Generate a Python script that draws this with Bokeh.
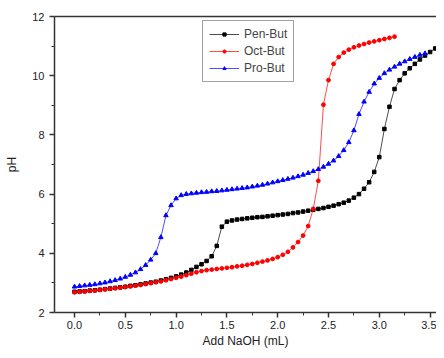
import numpy as np
from bokeh.plotting import figure
from bokeh.models import LinearAxis, FixedTicker, Range1d, Legend, LegendItem
from bokeh.embed import file_html
from bokeh.resources import INLINE

STEP = 0.05

pen_but = [2.70, 2.71, 2.72, 2.74, 2.75, 2.77, 2.79, 2.81, 2.83, 2.85,
           2.87, 2.90, 2.92, 2.95, 2.98, 3.01, 3.04, 3.08, 3.12, 3.17,
           3.22, 3.28, 3.35, 3.44, 3.54, 3.63, 3.74, 3.90, 4.25, 4.90,
           5.07, 5.11, 5.14, 5.16, 5.18, 5.20, 5.22, 5.23, 5.25, 5.27,
           5.29, 5.31, 5.33, 5.36, 5.38, 5.41, 5.44, 5.47, 5.50, 5.53,
           5.57, 5.61, 5.66, 5.71, 5.78, 5.88, 6.00, 6.18, 6.40, 6.75,
           7.25, 8.20, 8.95, 9.55, 9.85, 10.08, 10.25, 10.40, 10.55, 10.68,
           10.80, 10.92, 11.03, 11.12]

oct_but = [2.68, 2.70, 2.71, 2.73, 2.74, 2.76, 2.78, 2.80, 2.82, 2.84,
           2.86, 2.88, 2.91, 2.93, 2.96, 2.99, 3.02, 3.05, 3.09, 3.13,
           3.17, 3.21, 3.26, 3.31, 3.36, 3.40, 3.43, 3.45, 3.47, 3.49,
           3.51, 3.53, 3.56, 3.58, 3.61, 3.64, 3.68, 3.72, 3.76, 3.81,
           3.87, 3.95, 4.05, 4.20, 4.38, 4.60, 4.92, 5.50, 6.45, 9.02,
           9.85, 10.40, 10.63, 10.78, 10.88, 10.96, 11.02, 11.07, 11.12, 11.16,
           11.20, 11.24, 11.28, 11.32]

pro_but = [2.87, 2.89, 2.91, 2.93, 2.95, 2.98, 3.01, 3.05, 3.09, 3.14,
           3.20, 3.27, 3.35, 3.46, 3.60, 3.78, 4.00, 4.54, 5.28, 5.62,
           5.85, 5.96, 6.00, 6.02, 6.04, 6.06, 6.07, 6.09, 6.10, 6.12,
           6.14, 6.16, 6.18, 6.20, 6.22, 6.25, 6.28, 6.31, 6.35, 6.39,
           6.43, 6.47, 6.51, 6.55, 6.60, 6.65, 6.71, 6.77, 6.84, 6.92,
           7.02, 7.13, 7.28, 7.48, 7.75, 8.15, 8.70, 9.12, 9.45, 9.73,
           9.92, 10.08, 10.20, 10.30, 10.40, 10.48, 10.56, 10.63, 10.70, 10.75]

x_ticks = [0.0, 0.5, 1.0, 1.5, 2.0, 2.5, 3.0, 3.5]
y_ticks = [2, 4, 6, 8, 10, 12]

def xs(vals):
    return [round(i * STEP, 2) for i in range(len(vals))]

FONT = "Liberation Sans"

p = figure(width=436, height=350, output_backend="svg", toolbar_location=None,
           x_range=Range1d(-0.197, 3.563), y_range=Range1d(2, 12),
           min_border_left=54, min_border_right=0, min_border_top=16,
           min_border_bottom=37)
p.outline_line_color = None
p.xgrid.visible = False
p.ygrid.visible = False
p.background_fill_color = "white"
p.border_fill_color = "white"

for ax in (p.xaxis[0], p.yaxis[0]):
    ax.axis_line_color = "#333333"
    ax.axis_line_width = 1.5
    ax.major_tick_line_color = "#333333"
    ax.minor_tick_line_color = "#333333"
    ax.major_tick_line_width = 1.5
    ax.major_tick_out = 5
    ax.major_tick_in = 0
    ax.minor_tick_out = 3
    ax.minor_tick_in = 0
    ax.major_label_text_font = FONT
    ax.major_label_text_font_size = "11px"
    ax.major_label_text_color = "#222222"
    ax.axis_label_text_font = FONT
    ax.axis_label_text_font_size = "12px"
    ax.axis_label_text_font_style = "normal"
    ax.axis_label_text_color = "#222222"

p.xaxis.ticker = FixedTicker(ticks=x_ticks, minor_ticks=[i * 0.25 for i in range(15)])
p.xaxis.major_label_overrides = {t: f"{t:.1f}" for t in x_ticks}
p.yaxis.ticker = FixedTicker(ticks=y_ticks, minor_ticks=[3, 5, 7, 9, 11])
p.xaxis.axis_label = "Add NaOH (mL)"
p.yaxis.axis_label = "pH"
p.xaxis.major_label_standoff = 3
p.xaxis.axis_label_standoff = 2
p.yaxis.major_label_standoff = 5
p.yaxis.axis_label_standoff = 10

top = LinearAxis(ticker=FixedTicker(ticks=[]), axis_line_color="#333333",
                 axis_line_width=1.5, major_tick_line_color=None,
                 minor_tick_line_color=None, major_label_text_font_size="0px")
p.add_layout(top, "above")

r1l = p.line(xs(pen_but), pen_but, line_color="black", line_width=1, line_alpha=0.7)
r1m = p.scatter(xs(pen_but), pen_but, marker="square", size=3.5, color="black")
r2l = p.line(xs(oct_but), oct_but, line_color="red", line_width=1, line_alpha=0.7)
r2m = p.scatter(xs(oct_but), oct_but, marker="circle", size=3.8, color="red")
r3l = p.line(xs(pro_but), pro_but, line_color="blue", line_width=1, line_alpha=0.7)
r3m = p.scatter(xs(pro_but), pro_but, marker="triangle", size=4.5, color="blue")

legend = Legend(items=[LegendItem(label="Pen-But", renderers=[r1l, r1m]),
                       LegendItem(label="Oct-But", renderers=[r2l, r2m]),
                       LegendItem(label="Pro-But", renderers=[r3l, r3m])],
                location=(148, 230), label_text_font=FONT,
                label_text_font_size="12px", glyph_width=30, glyph_height=8,
                label_height=14, spacing=3, padding=6, margin=0,
                label_standoff=5, border_line_color="#444444",
                border_line_width=1, background_fill_alpha=1)
p.add_layout(legend, "center")

open("out.html", "w").write(file_html(p, INLINE))
